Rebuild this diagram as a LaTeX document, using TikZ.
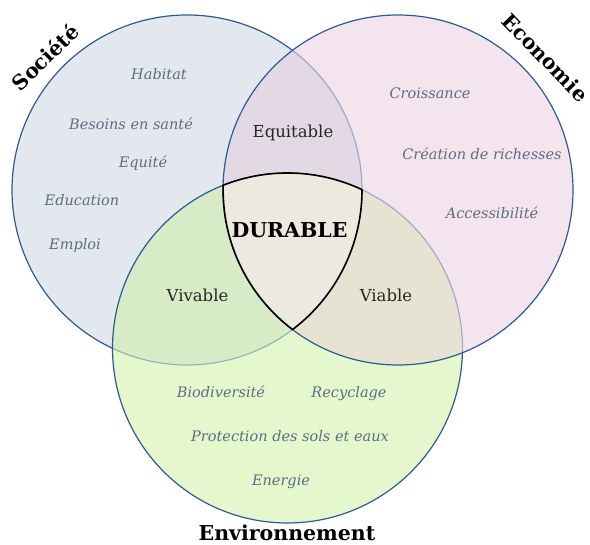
\documentclass[tikz,border=0pt]{standalone}
\usepackage{fontspec}
\setmainfont{DejaVu Serif}
\usetikzlibrary{calc}
\definecolor{cL}{HTML}{E3E8EE}
\definecolor{cR}{HTML}{F4E4EE}
\definecolor{cB}{HTML}{E5F8CD}
\definecolor{cLR}{HTML}{E3D9E4}
\definecolor{cLB}{HTML}{D7ECC6}
\definecolor{cRB}{HTML}{E7E3D3}
\definecolor{cC}{HTML}{ECEADF}
\definecolor{cLine}{HTML}{2E5A94}
\definecolor{cItem}{HTML}{5D6D82}
\begin{document}
\begin{tikzpicture}[x=1pt,y=1pt,
  darkline/.style={draw=cLine,line width=1.2pt},
  lightline/.style={draw=cLine,draw opacity=0.4,line width=1.2pt},
  item/.style={anchor=mid,inner sep=0pt,text=cItem,font=\fontsize{14.5pt}{17pt}\selectfont\itshape},
  zone/.style={anchor=mid,inner sep=0pt,text=black!85,font=\fontsize{16.5pt}{19pt}\selectfont},
  heading/.style={anchor=mid,inner sep=0pt,text=black,font=\fontsize{20.5pt}{24pt}\selectfont\bfseries}]
\useasboundingbox (0,0) rectangle (590,545);
\coordinate (L) at (187,355);
\coordinate (R) at (398,355);
\coordinate (B) at (287.5,197);
% fills
\fill[cL] (L) circle[radius=175pt];
\fill[cB] (B) circle[radius=175pt];
\fill[cR] (R) circle[radius=175pt];
\begin{scope}
  \clip (L) circle[radius=175pt];
  \fill[cLR] (R) circle[radius=175pt];
  \fill[cLB] (B) circle[radius=175pt];
\end{scope}
\begin{scope}
  \clip (R) circle[radius=175pt];
  \fill[cRB] (B) circle[radius=175pt];
\end{scope}
% outlines
\draw[darkline] ($(L)+(52.9:175pt)$) arc[start angle=52.9,end angle=244.8,radius=175pt];
\draw[lightline] ($(L)+(-115.2:175pt)$) arc[start angle=-115.2,end angle=52.9,radius=175pt];
\draw[darkline] ($(B)+(-1.5:175pt)$) arc[start angle=-1.5,end angle=-295.2,radius=175pt];
\draw[lightline] ($(B)+(64.8:175pt)$) arc[start angle=64.8,end angle=-1.5,radius=175pt];
\draw[darkline] (R) circle[radius=175pt];
% centre
\path[fill=cC,draw=black,line width=1.6pt,line join=round]
  ($(B)+(111.6:175pt)$) arc[start angle=111.6,end angle=64.8,radius=175pt]
  arc[start angle=0.1,end angle=-52.9,radius=175pt]
  arc[start angle=232.9,end angle=178.5,radius=175pt] -- cycle;
% labels
\node[item] (habitat) at (159,468) {Habitat};
\node[item] (besoins) at (131,418) {Besoins en santé};
\node[item] (equite) at (143,380) {Equité};
\node[item] (education) at (82,342) {Education};
\node[item] (emploi) at (75,298) {Emploi};
\node[item] (croissance) at (430,449) {Croissance};
\node[item] (creation) at (482,388) {Création de richesses};
\node[item] (access) at (492,329) {Accessibilité};
\node[item] (biodiv) at (221,150) {Biodiversité};
\node[item] (recyclage) at (349,150) {Recyclage};
\node[item] (protection) at (290,106) {Protection des sols et eaux};
\node[item] (energie) at (281,62) {Energie};
\node[zone] (equitable) at (293,410) {Equitable};
\node[zone] (vivable) at (197.5,246) {Vivable};
\node[zone] (viable) at (386,246) {Viable};
\node[heading] (durable) at (289.5,310) {DURABLE};
\node[heading,rotate=44] (societe) at (49,484) {Société};
\node[heading,rotate=-46] (economie) at (542,484) {Economie};
\node[heading,anchor=base] (environnement) at (287,4) {Environnement};
\end{tikzpicture}
\end{document}
